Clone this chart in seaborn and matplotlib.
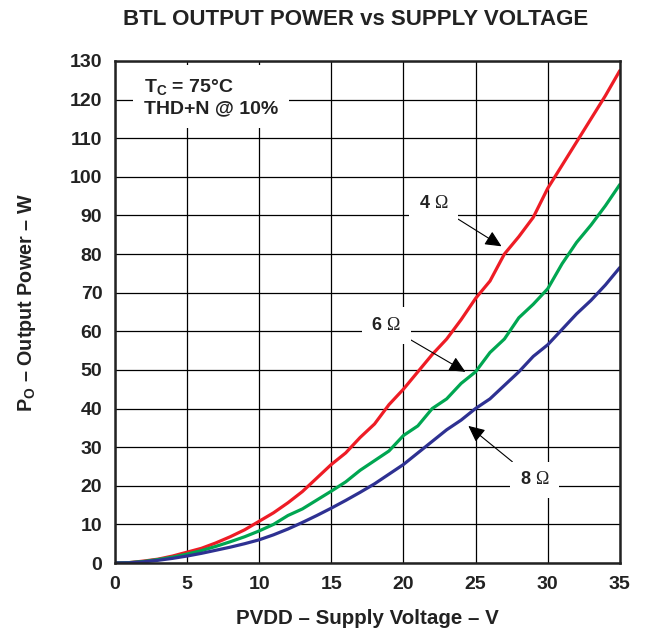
import matplotlib
matplotlib.use('Agg')
import matplotlib.pyplot as plt
import seaborn as sns
import pandas as pd

# supply voltage (V)
pvdd = list(range(0, 36))

# output power (W), one value per volt
p_4ohm = [0, 0.1, 0.5, 1.0, 1.8, 2.8, 3.8, 5.2, 6.8, 8.6,
          10.8, 13.0, 15.6, 18.5, 22.0, 25.5, 28.5, 32.5, 36.0, 41.0,
          45.0, 49.5, 54.0, 58.0, 63.0, 68.5, 73.0, 80.0, 84.5, 89.5,
          97.0, 103.0, 109.0, 115.0, 121.0, 127.5]
p_6ohm = [0, 0.1, 0.4, 0.9, 1.5, 2.3, 3.2, 4.3, 5.5, 6.8,
          8.3, 10.0, 12.3, 14.0, 16.3, 18.6, 21.0, 24.0, 26.5, 29.0,
          33.0, 35.5, 40.0, 42.5, 46.5, 49.5, 54.5, 58.0, 63.5, 67.0,
          71.0, 77.5, 83.0, 87.5, 92.5, 98.0]
p_8ohm = [0, 0.05, 0.3, 0.7, 1.2, 1.8, 2.5, 3.3, 4.1, 5.0,
          6.0, 7.3, 8.8, 10.5, 12.3, 14.2, 16.2, 18.3, 20.5, 23.0,
          25.5, 28.5, 31.5, 34.5, 37.0, 40.0, 42.5, 46.0, 49.5, 53.5,
          56.5, 60.5, 64.5, 68.0, 72.0, 76.5]

loads = ['4', '6', '8']
colors = ['#EE1C25', '#00A651', '#2E3192']
x_ticks = [0, 5, 10, 15, 20, 25, 30, 35]
y_ticks = list(range(0, 131, 10))

df = pd.DataFrame({
    'PVDD': pvdd * 3,
    'PO': p_4ohm + p_6ohm + p_8ohm,
    'load': [loads[0]] * 36 + [loads[1]] * 36 + [loads[2]] * 36,
})

sns.set_theme(style='white')
plt.rcParams.update({
    'font.family': ['Liberation Sans', 'DejaVu Sans'],
    'mathtext.fontset': 'custom',
    'mathtext.rm': 'Liberation Serif',
    'mathtext.bf': 'Liberation Sans:bold',
    'mathtext.it': 'Liberation Sans:italic',
})

fig = plt.figure(figsize=(6.45, 6.28), dpi=100)
ax = fig.add_axes([0.178, 0.1035, 0.783, 0.7995])

sns.lineplot(data=df, x='PVDD', y='PO', hue='load', palette=colors,
             linewidth=2.3, legend=False, ax=ax)

ax.set_xlim(0, 35)
ax.set_ylim(0, 130)
ax.set_xticks(x_ticks)
ax.set_yticks(y_ticks)
ax.grid(True, color='black', linewidth=0.9)
ax.set_axisbelow(True)
for s in ax.spines.values():
    s.set_visible(True)
    s.set_color('#222222')
    s.set_linewidth(1.8)
ax.tick_params(length=0, pad=9, labelsize=14, colors='#222222')
for lbl in ax.get_xticklabels() + ax.get_yticklabels():
    lbl.set_fontweight('bold')

ax.set_xlabel('PVDD – Supply Voltage – V', fontsize=14.8, fontweight='bold',
              color='#222222', labelpad=12)
ax.set_ylabel(r'$\mathbf{P_O}$ – Output Power – W', fontsize=14.2,
              fontweight='bold', color='#222222')
ax.yaxis.set_label_coords(-0.152, 0.518)
fig.suptitle('BTL OUTPUT POWER vs SUPPLY VOLTAGE', x=0.551, y=0.986,
             fontsize=16, fontweight='bold', color='#222222')

ax.text(2.0, 125.8, r'$\mathbf{T_C}$ = 75°C' + '\nTHD+N @ 10%', fontsize=14,
        fontweight='bold', color='#222222', va='top', ha='left',
        linespacing=1.25,
        bbox=dict(fc='white', ec='none', pad=8))

arrow = dict(arrowstyle='-|>,head_length=0.55,head_width=0.26', color='black',
             lw=0.8, mutation_scale=18, shrinkA=0, shrinkB=0)
label_kw = dict(fontsize=13, fontweight='bold', color='#222222', ha='center',
                va='center', bbox=dict(fc='white', ec='none', pad=7),
                arrowprops=arrow)
ax.annotate(loads[0] + r' $\Omega$', xy=(26.8, 82), xytext=(22.1, 93),
            **label_kw)
ax.annotate(loads[1] + r' $\Omega$', xy=(24.3, 49.5), xytext=(18.8, 61.5),
            **label_kw)
ax.annotate(loads[2] + r' $\Omega$', xy=(24.5, 35.5), xytext=(29.1, 21.5),
            **label_kw)

fig.savefig('out.png', dpi=100)
